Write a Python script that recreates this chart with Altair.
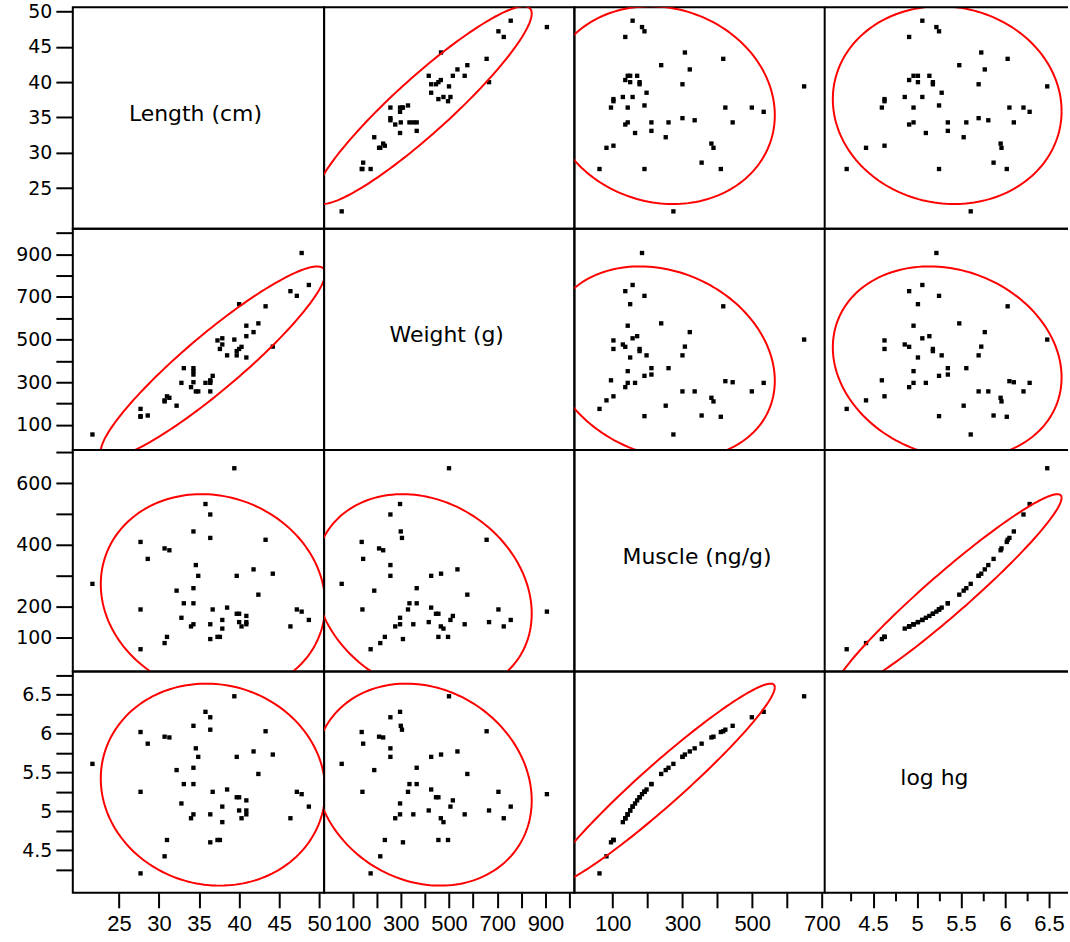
import altair as alt
import numpy as np
import pandas as pd

# ---- data ----
length_cm = [21.7, 27.7, 27.7, 27.7, 28.6, 30.7, 30.7, 31.0, 31.3, 32.2, 32.8, 33.1, 34.0, 34.3, 34.3, 34.3,
             34.3, 34.6, 34.9, 35.8, 36.4, 36.4, 36.4, 36.4, 36.7, 37.3, 37.6, 37.9, 37.9, 38.5, 39.4, 39.7,
             39.7, 40.0, 40.0, 40.3, 40.9, 40.9, 40.9, 41.8, 42.4, 43.3, 44.2, 46.4, 47.2, 47.8, 48.7]
weight_g = [55, 175, 141, 138, 144, 210, 215, 234, 227, 190, 297, 366, 277, 366, 336, 352,
            300, 257, 257, 297, 257, 305, 297, 309, 330, 496, 456, 506, 477, 426, 500, 426,
            446, 456, 666, 466, 516, 416, 565, 535, 576, 656, 467, 727, 705, 906, 756]
muscle_ng_g = [274, 62, 191, 410, 355, 389, 82, 102, 383, 252, 164, 211, 136, 260, 211, 143,
               444, 335, 300, 533, 499, 423, 143, 95, 191, 102, 102, 157, 129, 197, 649, 300,
               177, 177, 150, 136, 170, 150, 143, 321, 239, 417, 307, 136, 191, 184, 157]
log_hg = [5.61, 4.20, 5.25, 6.02, 5.87, 5.96, 4.42, 4.63, 5.95, 5.53, 5.10, 5.35, 4.91, 5.56, 5.35, 4.96,
          6.10, 5.81, 5.70, 6.28, 6.21, 6.05, 4.96, 4.60, 5.25, 4.63, 4.63, 5.06, 4.86, 5.28, 6.48, 5.70,
          5.18, 5.18, 5.01, 4.91, 5.14, 5.01, 4.96, 5.77, 5.48, 6.03, 5.73, 4.91, 5.25, 5.22, 5.06]

var_names = ["Length (cm)", "Weight (g)", "Muscle (ng/g)", "log hg"]
keys = ["L", "W", "M", "H"]

length_ticks = [25, 30, 35, 40, 45, 50]
weight_ticks = [100, 200, 300, 400, 500, 600, 700, 800, 900, 1000]
muscle_ticks = [100, 200, 300, 400, 500, 600, 700]
loghg_ticks = [4.25, 4.5, 4.75, 5, 5.25, 5.5, 5.75, 6, 6.25, 6.5, 6.75]

df = pd.DataFrame({"L": length_cm, "W": weight_g, "M": muscle_ng_g, "H": log_hg})

# axis ranges (same for a variable's row and column)
dom = {"L": [19.25, 50.6], "W": [-18, 1020], "M": [-10, 708], "H": [3.95, 6.80]}
fmt = {"L": "d", "W": "d", "M": "d", "H": ".2~f"}
col_w = [252, 251, 251, 244]
row_h = 222
# last column is cropped at the picture's right edge
dom_x = dict(dom)
dom_x["H"] = [3.95, 3.95 + (6.80 - 3.95) * 244 / 251.4]

FONT = "DejaVu Sans"


def ellipse_df(xk, yk, n=180):
    x = df[xk].to_numpy(float)
    y = df[yk].to_numpy(float)
    mu = np.array([x.mean(), y.mean()])
    cov = np.cov(x, y)
    chol = np.linalg.cholesky(cov)
    t = np.linspace(0, 2 * np.pi, n)
    circ = np.vstack([np.cos(t), np.sin(t)]) * np.sqrt(5.991)
    pts = chol @ circ
    return pd.DataFrame({"x": mu[0] + pts[0], "y": mu[1] + pts[1], "i": np.arange(n)})


def y_axis(k):
    common = dict(tickSize=17, tickWidth=2, tickColor="black", domain=False, grid=False, tickCount=100,
                  labelFont=FONT, labelFontSize=19, labelColor="black", labelPadding=4, format=fmt[k],
                  labelOverlap=False, minExtent=72, maxExtent=72, title=None)
    if k == "L":
        return alt.Axis(values=length_ticks, **common)
    if k == "W":
        return alt.Axis(values=weight_ticks, labelExpr="datum.value % 200 == 100 ? datum.label : ''", **common)
    if k == "M":
        return alt.Axis(values=muscle_ticks,
                        labelExpr="indexof([100,200,400,600], datum.value) >= 0 ? datum.label : ''", **common)
    return alt.Axis(values=loghg_ticks, labelExpr="datum.value % 0.5 == 0 ? datum.label : ''", **common)


def x_axis(k):
    common = dict(tickWidth=2, tickColor="black", domain=False, grid=False, tickCount=100, format=fmt[k],
                  labelFont="Liberation Sans", labelFontSize=22, labelColor="black", labelPadding=6,
                  labelOverlap=False, labelFlush=False, labelBound=False, title=None)
    if k == "L":
        return alt.Axis(values=length_ticks, tickSize=15, **common)
    if k == "W":
        return alt.Axis(values=weight_ticks, tickSize=15,
                        labelExpr="datum.value % 200 == 100 ? datum.label : ''", **common)
    if k == "M":
        return alt.Axis(values=muscle_ticks, tickSize=15,
                        labelExpr="datum.value % 200 == 100 ? datum.label : ''", **common)
    return alt.Axis(values=loghg_ticks,
                    tickSize={"condition": {"test": "datum.value % 0.5 != 0", "value": 8}, "value": 15},
                    labelExpr="datum.value % 0.5 == 0 ? datum.label : ''", **common)


def panel(r, c):
    xk, yk = keys[c], keys[r]
    w = col_w[c]
    xax = x_axis(xk) if r == 3 else None
    yax = y_axis(yk) if c == 0 else None
    xs = alt.Scale(domain=dom_x[xk], nice=False, zero=False)
    ys = alt.Scale(domain=dom[yk], nice=False, zero=False)
    if r == c:
        base = alt.Chart(df).mark_point(opacity=0).encode(
            x=alt.X(f"{xk}:Q", scale=xs, axis=xax),
            y=alt.Y(f"{yk}:Q", scale=ys, axis=yax),
        )
        txt = alt.Chart(pd.DataFrame({"t": [var_names[r]]})).mark_text(
            font=FONT, fontSize=22, color="black", align="center", baseline="middle"
        ).encode(text="t:N", x=alt.value(123 if c < 3 else 110), y=alt.value(row_h / 2 - 4))
        layers = [base, txt]
    else:
        pts = alt.Chart(df).mark_square(size=19, color="black", opacity=1).encode(
            x=alt.X(f"{xk}:Q", scale=xs, axis=xax),
            y=alt.Y(f"{yk}:Q", scale=ys, axis=yax),
        )
        ell = alt.Chart(ellipse_df(xk, yk)).mark_line(color="#ff0000", strokeWidth=2, clip=True).encode(
            x=alt.X("x:Q", scale=xs),
            y=alt.Y("y:Q", scale=ys),
            order=alt.Order("i:Q"),
        )
        layers = [pts, ell]
    if c == 3:
        one = pd.DataFrame({"k": [0]})
        top = alt.Chart(one).mark_rule(color="black", strokeWidth=2).encode(
            x=alt.value(0), x2=alt.value(w), y=alt.value(0))
        bot = alt.Chart(one).mark_rule(color="black", strokeWidth=2).encode(
            x=alt.value(0), x2=alt.value(w), y=alt.value(row_h))
        layers += [top, bot]
        ch = alt.layer(*layers).properties(width=w, height=row_h,
                                            view=alt.ViewBackground(stroke="transparent"))
    else:
        ch = alt.layer(*layers).properties(width=w, height=row_h)
    return ch


panels = [panel(r, c) for r in range(4) for c in range(4)]

chart = alt.concat(*panels, columns=4, spacing=0, bounds="flush").properties(
    padding={"left": 0, "right": 0, "top": 0, "bottom": 0}
).configure_view(stroke="black", strokeWidth=2).configure_concat(spacing=0)

chart.save("out.html", embed_options={"renderer": "svg", "actions": False})
